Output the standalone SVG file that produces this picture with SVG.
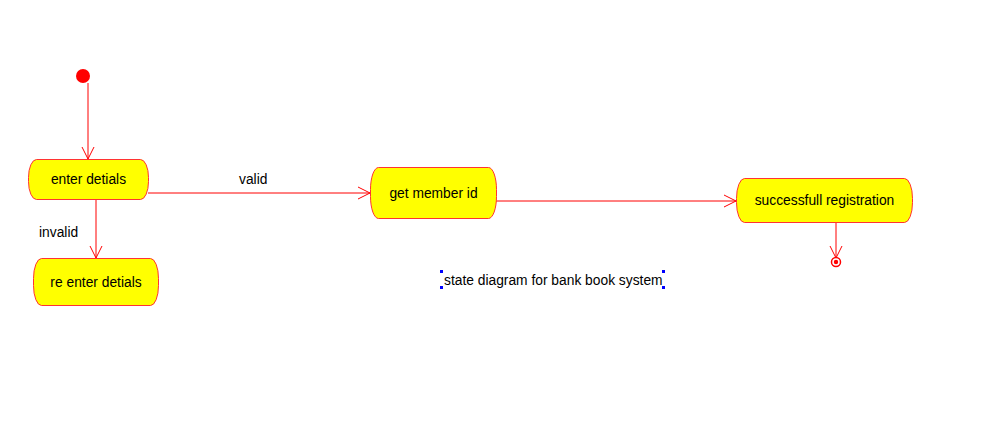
<svg xmlns="http://www.w3.org/2000/svg" width="1006" height="423" viewBox="0 0 1006 423">
<style>
.st{fill:#ffff00;stroke:#ff3333;stroke-width:1}
.t{font-family:"Liberation Sans",Arial,sans-serif;font-size:13.8px;fill:#000}
.c{fill:none;stroke:#ff0000;stroke-width:1}
.h{fill:#0000ff}
</style>
<defs>
<marker id="ah" markerWidth="14" markerHeight="14" refX="12" refY="6" orient="auto" markerUnits="userSpaceOnUse" viewBox="0 0 14 12">
<path d="M0,0 L12,6 L0,12" fill="none" stroke="#ff0000" stroke-width="1"/>
</marker>
</defs>
<rect width="1006" height="423" fill="#fff"/>
<g id="connectors">
<path class="c" d="M88,83 L88,159" marker-end="url(#ah)"/>
<path class="c" d="M96,199 L96,258" marker-end="url(#ah)"/>
<path class="c" d="M148,193 L370,193" marker-end="url(#ah)"/>
<path class="c" d="M496,201 L736,201" marker-end="url(#ah)"/>
<path class="c" d="M836,222 L836,258" marker-end="url(#ah)"/>
<text class="t" x="239" y="184">valid</text>
<text class="t" x="39" y="237">invalid</text>
</g>
<g id="start"><circle cx="83" cy="76" r="7" fill="#ff0000"/></g>
<g id="enter-detials">
<rect class="st" x="28.5" y="159.5" width="120" height="40" rx="8" ry="18"/>
<text class="t" x="88.5" y="184" text-anchor="middle">enter detials</text>
</g>
<g id="re-enter-detials">
<rect class="st" x="33.5" y="258.5" width="125" height="47" rx="8" ry="20"/>
<text class="t" x="96" y="287" text-anchor="middle">re enter detials</text>
</g>
<g id="get-member-id">
<rect class="st" x="370.5" y="167.5" width="126" height="51" rx="8" ry="22"/>
<text class="t" x="433.5" y="198" text-anchor="middle">get member id</text>
</g>
<g id="successfull-registration">
<rect class="st" x="736.5" y="178.5" width="176" height="44" rx="8" ry="20"/>
<text class="t" x="824.5" y="205" text-anchor="middle">successfull registration</text>
</g>
<g id="final">
<circle cx="836" cy="262" r="4.5" fill="#fff" stroke="#ff0000" stroke-width="1.5"/>
<circle cx="836" cy="262" r="2.2" fill="#ff0000"/>
</g>
<g id="caption">
<text class="t" x="444" y="285">state diagram for bank book system</text>
<rect class="h" x="440" y="270" width="3" height="3"/>
<rect class="h" x="440" y="286" width="3" height="3"/>
<rect class="h" x="662" y="270" width="3" height="3"/>
<rect class="h" x="662" y="286" width="3" height="3"/>
</g>
</svg>
